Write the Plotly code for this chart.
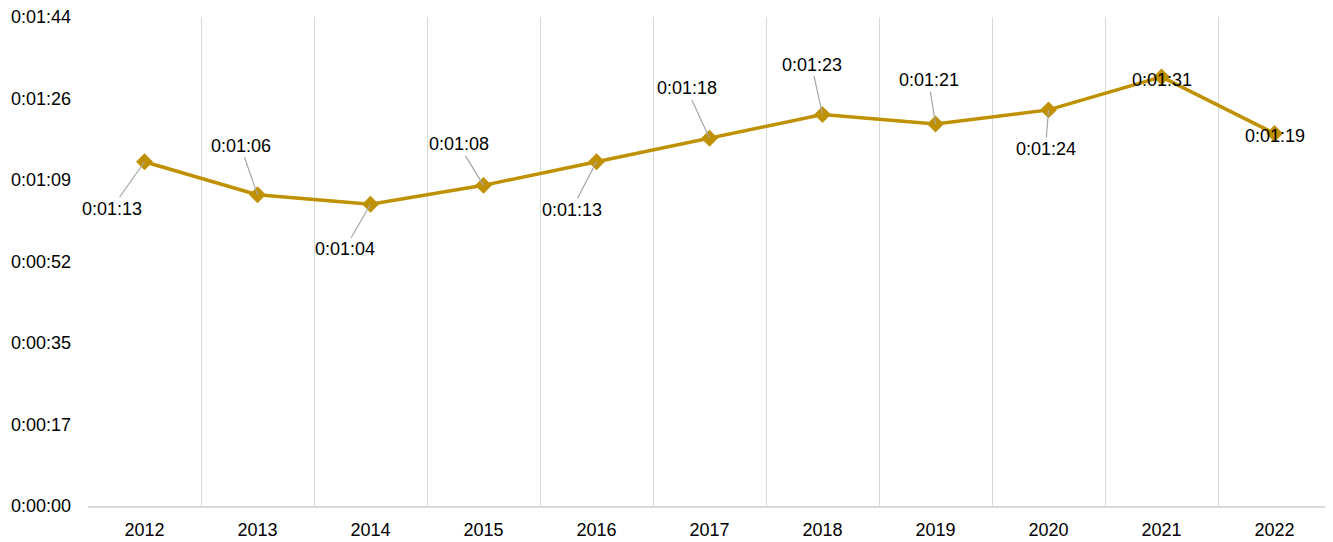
import plotly.graph_objects as go

years = ["2012", "2013", "2014", "2015", "2016", "2017", "2018", "2019", "2020", "2021", "2022"]
seconds = [73, 66, 64, 68, 73, 78, 83, 81, 84, 91, 79]
y_tick_vals = [0, 17.28, 34.56, 51.84, 69.12, 86.4, 103.68]
y_tick_text = ["0:00:00", "0:00:17", "0:00:35", "0:00:52", "0:01:09", "0:01:26", "0:01:44"]

# label offsets (pixels) relative to each point; None = centered on the point, no leader
label_offsets = [(-33, 47), (-17, -49), (-26, 45), (-25, -41), (-25, 48), (-23, -50),
                 (-11, -50), (-7, -44), (-3, 39), None, None]


def fmt(s):
    s = int(round(s))
    return f"{s // 3600}:{(s % 3600) // 60:02d}:{s % 60:02d}"


LINE = "#BF9000"
FONT = "Liberation Sans, Arial, sans-serif"
FS = 18

fig = go.Figure()
fig.add_trace(go.Scatter(
    x=years, y=seconds, mode="lines+markers",
    line=dict(color=LINE, width=3.5),
    marker=dict(symbol="diamond", size=13, color=LINE),
    hoverinfo="skip", showlegend=False,
))

annotations = []
for i, (s, off) in enumerate(zip(seconds, label_offsets)):
    if off is None:
        annotations.append(dict(x=i, y=s, xref="x", yref="y", text=fmt(s), showarrow=False,
                                yshift=-3, font=dict(family=FONT, size=FS, color="#000000")))
    else:
        annotations.append(dict(x=i, y=s, xref="x", yref="y", text=fmt(s), showarrow=True,
                                ax=off[0], ay=off[1], axref="pixel", ayref="pixel",
                                arrowhead=0, arrowwidth=1.2,
                                arrowcolor="#A6A6A6", standoff=0,
                                font=dict(family=FONT, size=FS, color="#000000")))

# the page places the figure at an 8px body offset, so the margins compensate for it
fig.update_layout(
    width=1325, height=534,
    margin=dict(l=80, r=2, t=9, b=36, autoexpand=False),
    paper_bgcolor="white", plot_bgcolor="white",
    font=dict(family=FONT, size=FS, color="#000000"),
    annotations=annotations,
    xaxis=dict(
        type="category", tickson="boundaries", showgrid=True, gridcolor="#D9D9D9", gridwidth=1,
        showline=True, linecolor="#D9D9D9", linewidth=1.5, ticks="", zeroline=False,
        range=[-0.5, 10.5], automargin=False, ticklabelstandoff=7,
        tickfont=dict(family=FONT, size=FS, color="#000000"),
    ),
    yaxis=dict(
        range=[0, 103.7], tickvals=y_tick_vals, ticktext=y_tick_text, showgrid=False,
        zeroline=False, showline=False, ticks="", ticklabelstandoff=16, automargin=False,
        ticklabeloverflow="allow",
        tickfont=dict(family=FONT, size=FS, color="#000000"),
    ),
)

fig.write_html("out.html")
